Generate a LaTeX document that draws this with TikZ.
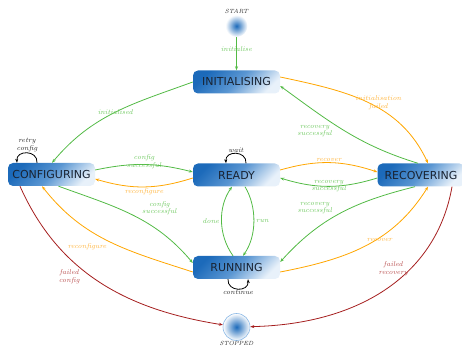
\documentclass[tikz,border=0pt]{standalone}
\usepackage{fontspec}
\newfontfamily\boxfont{DejaVu Sans}
\usetikzlibrary{arrows.meta}
\definecolor{eg}{RGB}{82,186,68}
\definecolor{lg}{RGB}{110,200,95}
\definecolor{eo}{RGB}{255,166,0}
\definecolor{lo}{RGB}{255,180,60}
\definecolor{er}{RGB}{165,30,30}
\definecolor{lr}{RGB}{185,80,80}
\definecolor{bdark}{RGB}{28,106,186}
\definecolor{bmid}{RGB}{90,150,210}
\definecolor{blight}{RGB}{232,241,250}
\definecolor{ring}{RGB}{140,185,230}
\definecolor{btext}{RGB}{25,35,50}
\begin{document}
\begin{tikzpicture}[x=1pt,y=1pt,
  >={Stealth[length=4pt,width=3pt]},
  statebox/.style={rounded corners=5pt, minimum width=87pt, minimum height=23pt, inner sep=0pt,
    top color=bdark, bottom color=blight, middle color=bmid, shading angle=45, text=btext,
    font=\boxfont\fontsize{11}{13}\selectfont},
  endpoint/.style={circle, inner sep=0pt, inner color=bdark, outer color=white},
  lab/.style={font=\itshape\fontsize{7}{7.5}\selectfont, align=center, inner sep=1pt},
  ge/.style={draw=eg, line width=0.8pt, ->},
  oe/.style={draw=eo, line width=0.8pt, ->},
  re/.style={draw=er, line width=0.8pt, ->},
  le/.style={draw=black, line width=0.8pt, ->},
]
\useasboundingbox (0,0) rectangle (462,347);

\node[statebox] (init) at (236.5,265) {INITIALISING};
\node[statebox] (conf) at (51.5,172.5) {CONFIGURING};
\node[statebox] (ready) at (236.5,172) {READY};
\node[statebox] (recov) at (421,172) {RECOVERING};
\node[statebox] (run) at (236.5,79.5) {RUNNING};
\node[endpoint, minimum size=22pt, label={[lab, text=black!85, font=\itshape\fontsize{6}{6}\selectfont, label distance=0pt]above:START}] (start) at (236.5,321) {};
\node[endpoint, minimum size=27pt, draw=ring, line width=0.6pt, label={[lab, text=black!85, font=\itshape\fontsize{6}{6}\selectfont, label distance=-1pt]below:STOPPED}] (stop) at (236.5,20) {};

% start -> init
\draw[ge] (start) -- (init) node[lab, text=lg, pos=0.35] {initialise};

% init <-> conf / recov
\draw[ge] (init.west) to[out=200,in=50] node[lab, text=lg, pos=0.5] {initialised} ([xshift=0.5pt]conf.north);
\draw[oe] ([yshift=5pt]init.east) to[out=-12,in=115] node[lab, text=lo, pos=0.57, above=-3pt] {initialisation\\failed} ([xshift=7pt]recov.north);
\draw[ge] ([xshift=-3pt]recov.north) to[out=163,in=-36] node[lab, text=lg, pos=0.6, below left=0pt] {recovery\\successful} ([yshift=-4pt]init.east);

% conf loop
\draw[le] ([xshift=-14.5pt]conf.north) .. controls +(1,13) and +(-1,13) .. node[lab, text=black!85, above=0pt] {retry\\config} ([xshift=-34.5pt]conf.north);

% conf <-> ready
\draw[ge] ([yshift=4.5pt]conf.east) to[bend left=13] node[lab, text=lg, pos=0.5, yshift=3pt] {config\\successful} ([yshift=3pt]ready.west);
\draw[oe] ([yshift=-3pt]ready.west) to[bend left=17] node[lab, text=lo, pos=0.5, below=0pt] {reconfigure} ([yshift=-4.5pt]conf.east);

% conf <-> run
\draw[ge] ([xshift=7pt]conf.south) to[out=-20,in=130] node[lab, text=lg, pos=0.55, above right=2pt] {config\\successful} ([yshift=4.5pt]run.west);
\draw[oe] ([yshift=-4.5pt]run.west) to[out=162,in=-52] node[lab, text=lo, pos=0.5, below left=1pt] {reconfigure} ([xshift=-9.5pt]conf.south);

% conf -> stop
\draw[re] ([xshift=-31.5pt]conf.south) to[out=-66,in=171] node[lab, text=lr, pos=0.4, below left=0pt] {failed\\config} (stop);

% ready loop
\draw[le] ([xshift=9.5pt]ready.north) .. controls +(1,13) and +(-1,13) .. node[lab, text=black!85, above=0pt] {wait} ([xshift=-10.5pt]ready.north);

% ready <-> recov
\draw[oe] ([yshift=5pt]ready.east) to[bend left=17] node[lab, text=lo, pos=0.5, above=0pt] {recover} ([yshift=3pt]recov.west);
\draw[ge] ([yshift=-3pt]recov.west) to[bend left=17] node[lab, text=lg, pos=0.5] {recovery\\successful} ([yshift=-3pt]ready.east);

% ready <-> run
\draw[ge] ([xshift=8.5pt]ready.south) .. controls +(12,-20) and +(14,20) .. node[lab, text=lg, right=1pt] {run} ([xshift=6.5pt]run.north);
\draw[ge] ([xshift=-3.5pt]run.north) .. controls +(-15,21) and +(-14,-20) .. node[lab, text=lg, left=1pt] {done} ([xshift=-4.5pt]ready.south);

% recov <-> run
\draw[ge] ([xshift=-6pt]recov.south) to[out=194,in=48] node[lab, text=lg, pos=0.55, above left=1pt] {recovery\\successful} ([yshift=5.5pt]run.east);
\draw[oe] ([yshift=-4.5pt]run.east) to[out=11,in=-122] node[lab, text=lo, pos=0.6, yshift=-2pt] {recover} ([xshift=7pt]recov.south);

% recov -> stop
\draw[re] ([xshift=31pt]recov.south) .. controls +(-15,-86) and +(126,3) .. node[lab, text=lr, pos=0.38, left=1pt] {failed\\recovery} (stop);

% run loop
\draw[le] ([xshift=-8.5pt]run.south) .. controls +(-1,-13) and +(1,-13) .. node[lab, text=black!85, below=0pt] {continue} ([xshift=11.5pt]run.south);
\end{tikzpicture}
\end{document}
